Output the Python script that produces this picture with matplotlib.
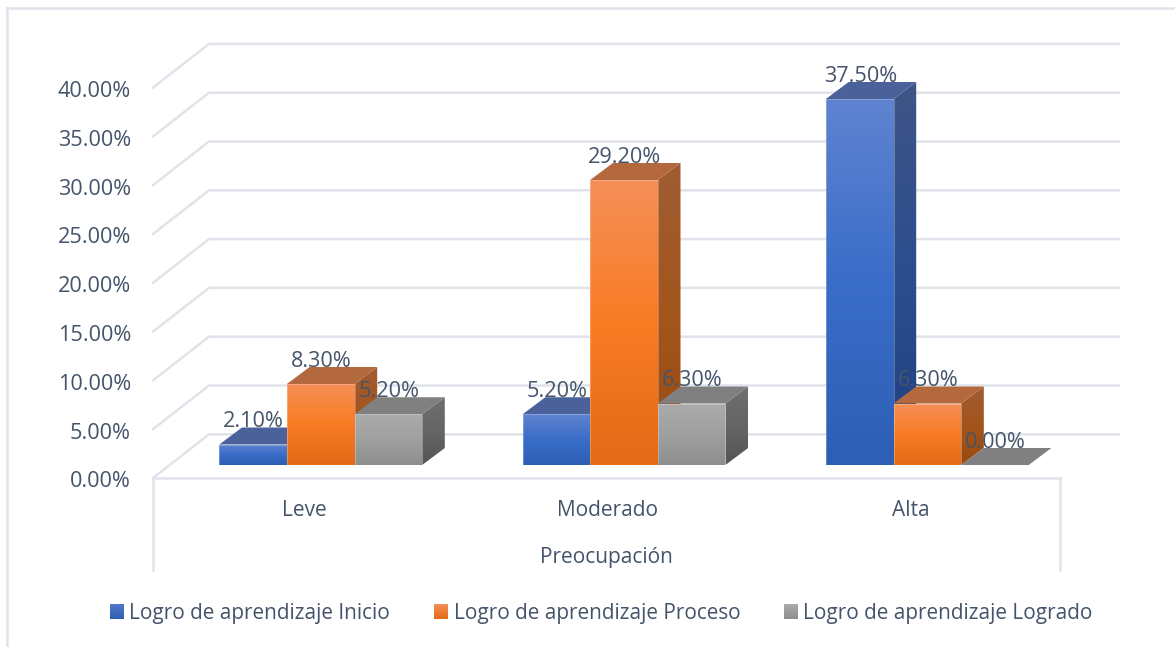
# Excel style 3D clustered columns, drawn by hand on a 2D axes
import numpy as np
import matplotlib
matplotlib.use('Agg')
import matplotlib.pyplot as plt
from matplotlib.patches import Polygon

categories = ['Leve', 'Moderado', 'Alta']
series_names = ['Logro de aprendizaje Inicio', 'Logro de aprendizaje Proceso', 'Logro de aprendizaje Logrado']
inicio = [2.1, 5.2, 37.5]
proceso = [8.3, 29.2, 6.3]
logrado = [5.2, 6.3, 0.0]
y_ticks = [0, 5, 10, 15, 20, 25, 30, 35, 40]
axis_title = 'Preocupación'

# colours per series: front face, side face (top to bottom) and top face
front_cols = [['#5f83d0', '#3a6dc8', '#2d5fb4'],
              ['#f58f58', '#f97c24', '#e36a17'],
              ['#ababab', '#a0a0a0', '#8e8e8e']]
side_cols = [['#3f5587', '#2c4d8e', '#1f3f80'],
             ['#a05c33', '#a3551b', '#994a10'],
             ['#6f6f6f', '#656565', '#555555']]
top_cols = ['#4a6299', '#b4683e', '#808080']
legend_cols = [['#5478c8', '#2d5fb4'], ['#f58f58', '#e36a17'], ['#ababab', '#8e8e8e']]
text_col = '#44546a'
grid_col = '#e0e4ea'
plt.rcParams['font.family'] = ['Open Sans', 'DejaVu Sans']

W, H = 1175, 647
px_per_cat = 303.3
px_per_pct = 9.76
x0_px = 320.7   # centre of first cluster
y0_px = 465.0   # base of the columns
bar_w = 67.6 / px_per_cat
depth_x = 22.7 / px_per_cat
depth_y = 17.0 / px_per_pct

fig = plt.figure(figsize=(W / 100, H / 100), dpi=100)
ax = fig.add_axes([0, 0, 1, 1])
ax.set_xlim(-x0_px / px_per_cat, (W - x0_px) / px_per_cat)
ax.set_ylim((y0_px - H) / px_per_pct, y0_px / px_per_pct)
ax.axis('off')


# layout helpers, from picture pixels to data units
def px(x):
    return (x - x0_px) / px_per_cat


def py(y):
    return (y0_px - y) / px_per_pct


def gradient(poly, cols, x1, x2, y1, y2, z):
    rgb = np.array([matplotlib.colors.to_rgb(c) for c in cols])
    pos = np.linspace(0, 1, len(cols))
    t = np.linspace(0, 1, 64)
    arr = np.stack([np.interp(t, pos, rgb[:, i]) for i in range(3)], axis=1)[:, None, :]
    im = ax.imshow(arr, extent=[x1, x2, y1, y2], origin='upper', aspect='auto', zorder=z, interpolation='bilinear')
    patch = Polygon(poly, closed=True, transform=ax.transData, fc='none', ec='none')
    ax.add_patch(patch)
    im.set_clip_path(patch)


# frame round the whole chart
ax.plot([px(6.5), px(6.5)], [py(647), py(8)], color=grid_col, lw=1.8, zorder=1)
ax.plot([px(6.5), px(1175)], [py(8), py(8)], color=grid_col, lw=1.8, zorder=1)

# walls and floor
wall_dx = px(209) - px(153)
wall_dy = py(434.3) - py(478)
floor_front = py(478)
for v in y_ticks:
    back = py(434.3) + v
    ax.plot([px(153), px(209), px(1119)], [back - wall_dy, back, back], color=grid_col, lw=1.8, zorder=1,
            solid_joinstyle='miter')
    ax.text(px(131), floor_front + v - 0.4, f'{v:.2f}%', ha='right', va='center', fontsize=15.6, color=text_col, zorder=6)
ax.plot([px(153), px(1060)], [floor_front, floor_front], color=grid_col, lw=1.8, zorder=1)
for xp in [153, 1060]:
    ax.plot([px(xp), px(xp)], [floor_front, py(570)], color=grid_col, lw=1.8, zorder=1)

# columns, left to right so the next one hides the side of the last
z = 2
for i in range(len(categories)):
    for s, vals in enumerate([inicio, proceso, logrado]):
        v = vals[i]
        x1 = i + (s - 1.5) * bar_w
        x2 = x1 + bar_w
        if v > 0:
            gradient([(x1, 0), (x2, 0), (x2, v), (x1, v)], front_cols[s], x1, x2, 0, v, z + 0.2)
            gradient([(x2, 0), (x2 + depth_x, depth_y), (x2 + depth_x, v + depth_y), (x2, v)], side_cols[s],
                     x2, x2 + depth_x, 0, v + depth_y, z + 0.1)
            # faint pale outline on the front face
            ax.add_patch(Polygon([(x1, 0), (x2, 0), (x2, v), (x1, v)], closed=True, fc='none', ec='white',
                                 lw=0.6, alpha=0.3, zorder=z + 0.25))
        ax.add_patch(Polygon([(x1, v), (x2, v), (x2 + depth_x, v + depth_y), (x1 + depth_x, v + depth_y)],
                             closed=True, fc=top_cols[s], ec='none', zorder=z + 0.1))
        z += 0.3
        ax.text((x1 + x2) / 2 + 0.002, v + 1.75, f'{v:.2f}%', ha='center', va='baseline', fontsize=15.6,
                color=text_col, zorder=20)

# category labels and axis title
for i, c in enumerate(categories):
    ax.text(i - 0.055, py(510), c, ha='center', va='center', fontsize=15, color=text_col, zorder=20)
ax.text(px(606), py(558), axis_title, ha='center', va='center', fontsize=15, color=text_col, zorder=20)

# legend
for name, cols, sq, tx in zip(series_names, legend_cols, [110, 434, 784], [129, 454, 803]):
    x1, x2, y1, y2 = px(sq), px(sq + 14), py(619), py(604)
    gradient([(x1, y1), (x2, y1), (x2, y2), (x1, y2)], cols, x1, x2, y1, y2, 5)
    ax.text(px(tx), py(613.5), name, ha='left', va='center', fontsize=14.95, color=text_col, zorder=20)

ax.set_xlim(-x0_px / px_per_cat, (W - x0_px) / px_per_cat)
ax.set_ylim((y0_px - H) / px_per_pct, y0_px / px_per_pct)
fig.savefig('out.png', dpi=100)
